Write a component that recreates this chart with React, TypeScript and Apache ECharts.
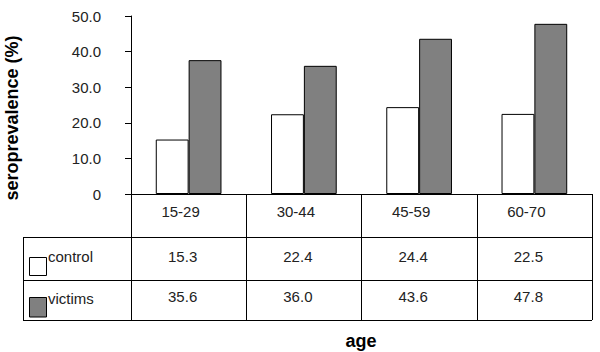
import React, { useEffect, useRef } from "react";
import * as echarts from "echarts";

const categories = ["15-29", "30-44", "45-59", "60-70"];
const controlValues = [15.3, 22.4, 24.4, 22.5];
const victimsValues = [37.6, 36.0, 43.6, 47.8];
const controlTable = ["15.3", "22.4", "24.4", "22.5"];
const victimsTable = ["35.6", "36.0", "43.6", "47.8"];
const seriesNames = ["control", "victims"];
const yMin = 0;
const yMax = 50;
const yInterval = 10;

const FONT = "'Liberation Sans', Arial, sans-serif";
const TXT = "#222";

export default function App() {
  const ref = useRef<HTMLDivElement>(null);
  useEffect(() => {
    if (!ref.current) return;
    const chart = echarts.init(ref.current, undefined, { renderer: "svg" });
    chart.setOption({
      animation: false,
      backgroundColor: "#fff",
      grid: { left: 131, right: 8, top: 16, bottom: 158, containLabel: false },
      xAxis: {
        type: "category",
        data: categories,
        axisLine: { show: true, lineStyle: { color: "#000", width: 1 } },
        axisTick: { show: true, length: 126, interval: 0, lineStyle: { color: "#000", width: 1 } },
        axisLabel: { show: false },
        splitLine: { show: false },
      },
      yAxis: {
        type: "value",
        min: yMin,
        max: yMax,
        interval: yInterval,
        axisLine: { show: true, lineStyle: { color: "#000", width: 1 } },
        axisTick: { show: true, length: 6, lineStyle: { color: "#000" } },
        splitLine: { show: false },
        axisLabel: {
          margin: 30,
          fontFamily: FONT,
          fontSize: 15,
          color: TXT,
          verticalAlign: "middle",
          padding: [0, 0, 11, 0],
          formatter: (v: number) => (v === 0 ? "0" : v.toFixed(1)),
        },
      },
      series: [
        {
          name: seriesNames[0],
          type: "bar",
          data: controlValues,
          barGap: "0%",
          barCategoryGap: "43%",
          itemStyle: { color: "#fff", borderColor: "#000", borderWidth: 1 },
        },
        {
          name: seriesNames[1],
          type: "bar",
          data: victimsValues,
          barGap: "0%",
          barCategoryGap: "43%",
          itemStyle: { color: "#808080", borderColor: "#000", borderWidth: 1 },
        },
      ],
    });

    const graphic: any[] = [];
    const lineStyle = { stroke: "#000", lineWidth: 1 };
    [237.5, 280.5, 320.5].forEach((y) =>
      graphic.push({ type: "line", shape: { x1: 23, y1: y, x2: 592, y2: y }, style: lineStyle })
    );
    graphic.push({ type: "line", shape: { x1: 23.5, y1: 237.5, x2: 23.5, y2: 320.5 }, style: lineStyle });
    graphic.push({ type: "rect", shape: { x: 29.5, y: 257.5, width: 17, height: 18 }, style: { fill: "#fff", stroke: "#000", lineWidth: 1 } });
    graphic.push({ type: "rect", shape: { x: 29.5, y: 297.5, width: 17, height: 19.5 }, style: { fill: "#808080", stroke: "#000", lineWidth: 1 } });
    const tstyle = (extra: any) => ({ fontFamily: FONT, fontSize: 15, fill: TXT, verticalAlign: "middle", ...extra });
    graphic.push({ type: "text", x: 48, y: 256, style: tstyle({ text: seriesNames[0], align: "left" }) });
    graphic.push({ type: "text", x: 48, y: 298.5, style: tstyle({ text: seriesNames[1], align: "left" }) });

    categories.forEach((c, i) => {
      const x = chart.convertToPixel({ xAxisIndex: 0 }, c) as number;
      graphic.push({ type: "text", x: x - 8, y: 211, style: tstyle({ text: c, align: "center" }) });
      graphic.push({ type: "text", x: x - 6, y: 256, style: tstyle({ text: controlTable[i], align: "center" }) });
      graphic.push({ type: "text", x: x - 6, y: 296.5, style: tstyle({ text: victimsTable[i], align: "center" }) });
    });

    graphic.push({
      type: "text",
      x: 12,
      y: 118,
      rotation: Math.PI / 2,
      style: { text: "seroprevalence (%)", fontFamily: FONT, fontSize: 18, fontWeight: "bold", fill: "#000", align: "center", verticalAlign: "middle" },
    });
    graphic.push({
      type: "text",
      x: 361,
      y: 341,
      style: { text: "age", fontFamily: FONT, fontSize: 18, fontWeight: "bold", fill: "#000", align: "center", verticalAlign: "middle" },
    });

    chart.setOption({ graphic });
    return () => chart.dispose();
  }, []);
  return <div ref={ref} style={{ position: "absolute", left: 0, top: 0, width: 600, height: 352 }} />;
}
